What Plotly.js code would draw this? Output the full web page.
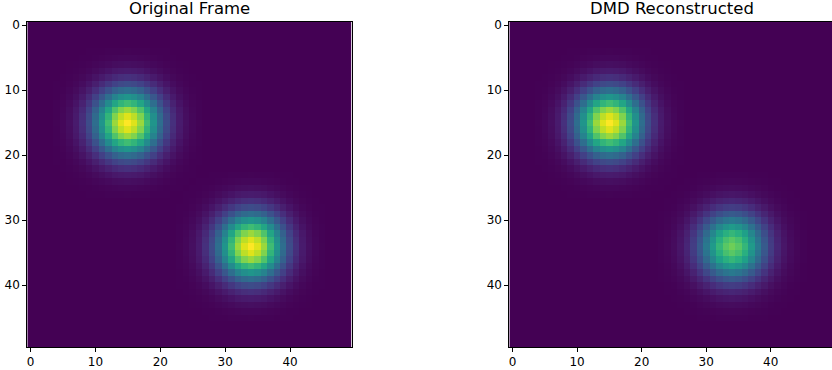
<!DOCTYPE html>
<html>
<head>
<meta charset="utf-8">
<script src="https://cdn.plot.ly/plotly-3.0.1.min.js"></script>
<style>html,body{margin:0;padding:0;background:#fff;}#chart{width:832px;height:370px;}</style>
</head>
<body>
<div id="chart"></div>
<script>
// Grid size (cells per side)
const gridSize = 50;
// Blob centres (column, row)
const blobCols = [15, 34];
const blobRows = [15, 34];
// Peak intensities (relative)
const originalPeaks = [1.0, 1.0];
const dmdPeaks = [1.0, 0.78];
// Intensity fall-off per cell offset from a blob centre
const profile = [1.0, 0.95, 0.85, 0.69, 0.52, 0.36, 0.23, 0.135, 0.073, 0.037, 0.017, 0.007, 0.0];
const tickVals = [0, 10, 20, 30, 40];
const titles = ["Original Frame", "DMD Reconstructed"];

function prof(d) { d = Math.abs(d); return d < profile.length ? profile[d] : 0; }
function buildGrid(peaks) {
  const z = [];
  for (let r = 0; r < gridSize; r++) {
    const row = [];
    for (let c = 0; c < gridSize; c++) {
      let v = 0;
      for (let b = 0; b < peaks.length; b++) {
        v += peaks[b] * prof(c - blobCols[b]) * prof(r - blobRows[b]);
      }
      row.push(v);
    }
    z.push(row);
  }
  return z;
}
const idx = Array.from({length: gridSize}, (_, i) => i);

const traces = [
  {type: 'heatmap', z: buildGrid(originalPeaks), x: idx, y: idx, colorscale: 'Viridis', showscale: false, xaxis: 'x', yaxis: 'y', zsmooth: false, hoverinfo: 'skip'},
  {type: 'heatmap', z: buildGrid(dmdPeaks), x: idx, y: idx, colorscale: 'Viridis', showscale: false, xaxis: 'x2', yaxis: 'y2', zsmooth: false, hoverinfo: 'skip'}
];

const font = {family: 'DejaVu Sans', size: 12, color: '#000'};
function ax(domain, anchor, isY, mirror) {
  return {
    domain: domain, anchor: anchor,
    range: isY ? [49.5, -0.5] : [-0.5, 49.5],
    tickvals: tickVals, ticks: 'outside', ticklen: 4, tickwidth: 1, tickcolor: '#000',
    showline: true, mirror: mirror, linecolor: '#000', linewidth: 1,
    showgrid: false, zeroline: false, tickfont: font, fixedrange: true
  };
}
const yDom = [0.0622, 0.9405];
const titleFont = {family: 'DejaVu Sans', size: 16.5, color: '#000'};
const layout = {
  width: 832, height: 370,
  margin: {l: 0, r: 0, t: 0, b: 0},
  paper_bgcolor: '#fff', plot_bgcolor: '#fff',
  showlegend: false,
  xaxis: ax([0.0328, 0.4227], 'y', false, true),
  yaxis: ax(yDom, 'x', true, true),
  xaxis2: ax([0.6122, 1.0], 'y2', false, true),
  yaxis2: ax(yDom, 'x2', true, false),
  annotations: [
    {text: titles[0], xref: 'paper', yref: 'paper', x: (0.0328 + 0.4227) / 2, y: 1 - 8 / 370, xanchor: 'center', yanchor: 'middle', showarrow: false, font: titleFont},
    {text: titles[1], xref: 'paper', yref: 'paper', x: (0.6122 + 1.0039) / 2, y: 1 - 8 / 370, xanchor: 'center', yanchor: 'middle', showarrow: false, font: titleFont}
  ]
};
Plotly.newPlot('chart', traces, layout, {displayModeBar: false, staticPlot: true});
</script>
</body>
</html>
